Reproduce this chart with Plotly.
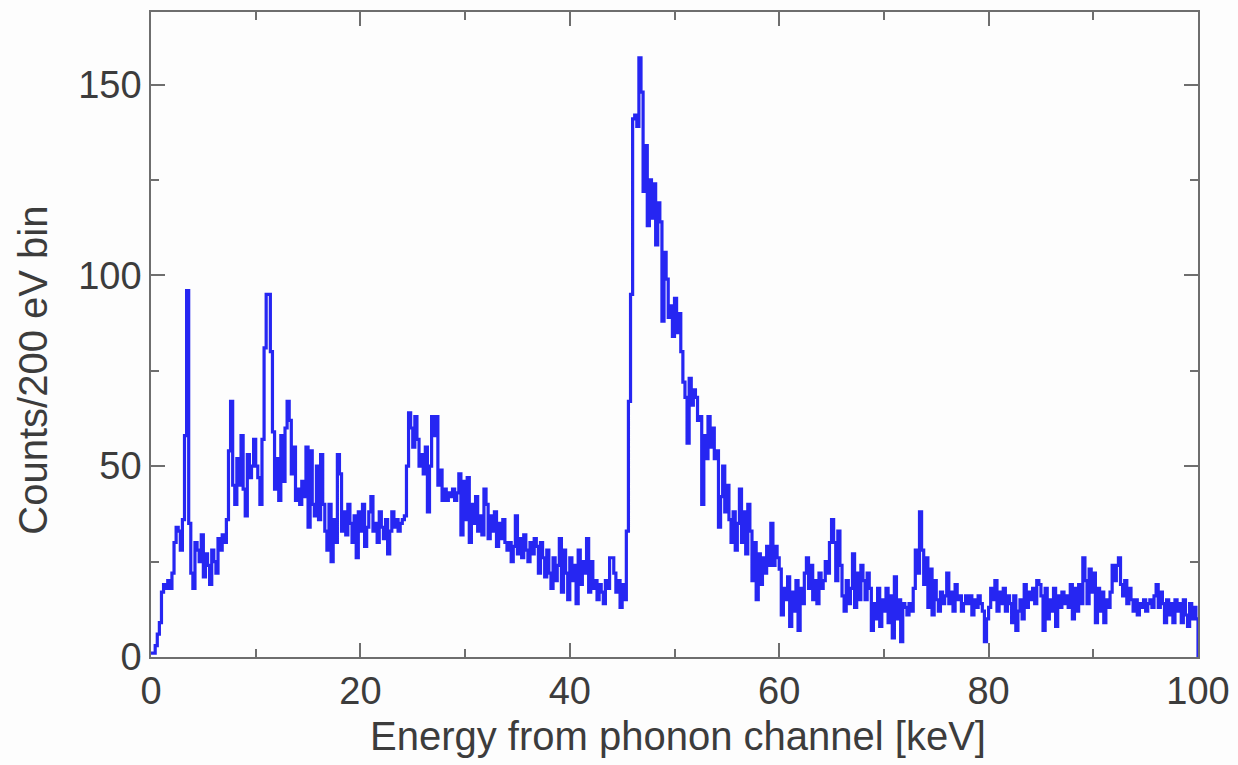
import numpy as np
import plotly.graph_objects as go

# Phonon-channel energy spectrum: counts per 200 eV bin, 0-100 keV (500 bins)
bin_width_kev = 0.2
e_min, e_max = 0.0, 100.0

counts = [
    1, 1, 3, 6, 9, 17, 19, 18, 20, 18,            # 0-2 keV
    22, 30, 34, 33, 28, 36, 58, 96, 35, 22,       # 2-4
    18, 30, 28, 25, 32, 21, 27, 24, 19, 28,       # 4-6
    25, 22, 31, 28, 32, 30, 36, 54, 67, 45,       # 6-8
    40, 52, 45, 58, 44, 37, 53, 47, 50, 57,       # 8-10
    50, 47, 40, 57, 81, 95, 95, 80, 59, 44,       # 10-12
    52, 41, 58, 46, 60, 67, 62, 48, 55, 41,       # 12-14
    44, 40, 46, 42, 55, 34, 54, 40, 37, 50,       # 14-16
    36, 53, 40, 33, 28, 40, 25, 36, 30, 53,       # 16-18
    48, 33, 38, 32, 40, 35, 30, 37, 26, 38,       # 18-20
    33, 40, 29, 34, 38, 42, 33, 35, 30, 38,       # 20-22
    34, 31, 36, 27, 33, 38, 34, 36, 33, 35,       # 22-24
    36, 37, 50, 64, 60, 55, 63, 57, 50, 53,       # 24-26
    48, 55, 38, 50, 63, 58, 63, 45, 49, 41,       # 26-28
    44, 41, 43, 42, 44, 41, 43, 48, 32, 46,       # 28-30
    36, 47, 30, 40, 35, 42, 33, 37, 32, 44,       # 30-32
    40, 31, 37, 33, 38, 29, 35, 31, 36, 30,       # 32-34
    28, 30, 25, 29, 37, 27, 31, 26, 32, 28,       # 34-36
    25, 30, 27, 31, 29, 22, 30, 26, 21, 28,       # 36-38
    22, 18, 26, 20, 24, 31, 17, 28, 22, 15,       # 38-40
    26, 20, 24, 14, 28, 19, 25, 22, 31, 17,       # 40-42
    25, 18, 20, 15, 19, 17, 14, 20, 18, 26,       # 42-44
    26, 22, 17, 20, 13, 19, 15, 33, 67, 95,       # 44-46
    141, 142, 139, 157, 148, 122, 134, 113, 125, 115,  # 46-48
    124, 108, 119, 114, 88, 106, 99, 89, 92, 84,  # 48-50
    94, 85, 90, 80, 72, 68, 56, 73, 66, 70,       # 50-52
    68, 62, 63, 40, 58, 52, 63, 55, 60, 52,       # 52-54
    54, 34, 42, 50, 38, 45, 36, 30, 38, 28,       # 54-56
    35, 44, 30, 38, 27, 40, 33, 20, 30, 15,       # 56-58
    27, 19, 26, 22, 29, 24, 35, 24, 29, 26,       # 58-60
    23, 11, 18, 15, 21, 8, 17, 12, 20, 7,         # 60-62
    18, 14, 22, 26, 18, 24, 15, 20, 14, 22,       # 62-64
    18, 20, 25, 22, 30, 36, 30, 20, 33, 24,       # 64-66
    16, 12, 20, 14, 18, 27, 13, 22, 15, 24,       # 66-68
    20, 15, 22, 18, 7, 14, 10, 18, 8, 15,         # 68-70
    12, 18, 9, 16, 5, 21, 10, 15, 4, 14,          # 70-72
    13, 11, 14, 12, 18, 28, 22, 38, 28, 19,       # 72-74
    26, 13, 23, 11, 20, 15, 12, 17, 14, 16,       # 74-76
    22, 14, 17, 12, 19, 15, 16, 12, 14, 16,       # 76-78
    14, 16, 11, 15, 13, 16, 14, 12, 4, 10,        # 78-80
    13, 18, 15, 20, 12, 17, 14, 18, 12, 16,       # 80-82
    14, 9, 16, 7, 12, 15, 10, 19, 13, 17,         # 82-84
    15, 18, 14, 20, 19, 16, 7, 18, 10, 15,        # 84-86
    12, 18, 8, 16, 13, 17, 14, 16, 13, 19,        # 86-88
    10, 18, 12, 19, 14, 26, 20, 14, 23, 17,       # 88-90
    22, 9, 18, 12, 17, 9, 15, 13, 17, 24,         # 90-92
    20, 24, 26, 19, 16, 20, 14, 18, 15, 12,       # 92-94
    15, 11, 14, 13, 15, 12, 14, 15, 13, 16,       # 94-96
    19, 13, 17, 14, 9, 15, 11, 14, 9, 15,         # 96-98
    12, 14, 9, 15, 11, 8, 14, 10, 13, 10,         # 98-100
]

x_tick_vals = [0, 20, 40, 60, 80, 100]
y_tick_vals = [0, 50, 100, 150]
x_title = "Energy from phonon channel [keV]"
y_title = "Counts/200 eV bin"

# Step outline: left bin edges, closed at the upper edge and dropped to zero
edges = e_min + bin_width_kev * np.arange(len(counts) + 1)
step_x = list(edges) + [edges[-1]]
step_y = list(counts) + [counts[-1], 0]

fig = go.Figure()
fig.add_trace(go.Scatter(
    x=step_x, y=step_y, mode="lines", line_shape="hv",
    line=dict(color="#2626f2", width=3.2),
    hoverinfo="skip", showlegend=False,
))

text_color = "#3c3c3c"
frame_color = "#6e6e6e"
font_family = "Liberation Sans, Arial, Helvetica, sans-serif"

fig.update_layout(
    width=1238, height=765,
    margin=dict(l=151, r=40, t=12, b=108, autoexpand=False),
    paper_bgcolor="#fdfdfd", plot_bgcolor="#fdfdfd",
    font=dict(family=font_family, color=text_color, size=38),
)
fig.update_xaxes(
    range=[e_min, e_max], tickmode="array", tickvals=x_tick_vals,
    ticks="inside", ticklen=14, tickwidth=1.5, tickcolor=frame_color,
    minor=dict(dtick=10, ticks="inside", ticklen=8, tickwidth=1.5, tickcolor=frame_color),
    showline=True, linecolor=frame_color, linewidth=1.5, mirror="ticks",
    showgrid=False, zeroline=False, automargin=False,
    tickfont=dict(size=38, color=text_color),
)
fig.update_yaxes(
    range=[0, 169], tickmode="array", tickvals=y_tick_vals,
    ticks="inside", ticklen=14, tickwidth=1.5, tickcolor=frame_color,
    minor=dict(dtick=25, ticks="inside", ticklen=8, tickwidth=1.5, tickcolor=frame_color),
    showline=True, linecolor=frame_color, linewidth=1.5, mirror="ticks",
    showgrid=False, zeroline=False, automargin=False,
    tickfont=dict(size=38, color=text_color),
)

# Axis titles as annotations so they sit at fixed spots around the frame
fig.add_annotation(
    text=x_title, showarrow=False,
    xref="paper", yref="paper", x=0.503, y=-0.123,
    xanchor="center", yanchor="middle",
    font=dict(size=40, color=text_color),
)
fig.add_annotation(
    text=y_title, textangle=-90, showarrow=False,
    xref="paper", yref="paper", x=-0.113, y=0.445,
    xanchor="center", yanchor="middle",
    font=dict(size=40, color=text_color),
)

fig.write_html("out.html")
